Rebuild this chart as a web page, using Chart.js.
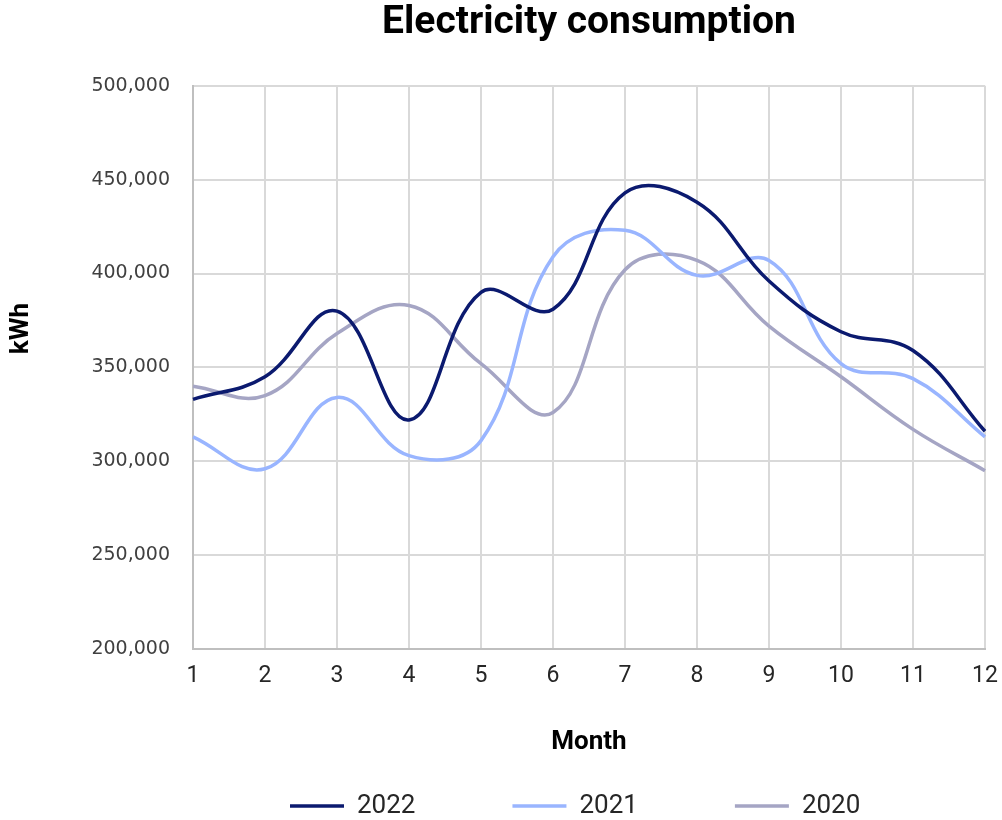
<!DOCTYPE html>
<html>
<head>
<meta charset="utf-8">
<title>Electricity consumption</title>
<script src="https://cdn.jsdelivr.net/npm/chart.js@4.4.1/dist/chart.umd.min.js"></script>
<style>
  html, body { margin: 0; padding: 0; background: #ffffff; }
  #chart_area { width: 1002px; height: 820px; }
</style>
</head>
<body>
<div id="chart_area"><canvas id="myChart"></canvas></div>
<script>
// months on the x axis
var months = [1, 2, 3, 4, 5, 6, 7, 8, 9, 10, 11, 12];

// kWh per month
var kwh2022 = [333000, 345000, 380000, 322000, 390000, 381000, 443000, 438000, 396000, 369000, 359000, 316000];
var kwh2021 = [313000, 296000, 334000, 303000, 311000, 409000, 423000, 399000, 407000, 352000, 344000, 313000];
var kwh2020 = [340000, 335000, 368000, 383000, 352000, 326000, 402000, 407000, 372000, 345000, 317000, 295000];

var yTicks = [200000, 250000, 300000, 350000, 400000, 450000, 500000];

var gridColor = "#d9d9d9";
var textColor = "#404040";

function line(label, data, color)
{
    return {
        label: label,
        data: data,
        borderColor: color,
        backgroundColor: color,
        borderWidth: 3.5,
        pointRadius: 0,
        pointHoverRadius: 0,
        tension: 0.4,
        fill: false
    };
}

var ctx = document.getElementById("myChart").getContext("2d");

var myChart = new Chart(ctx, {
    type: "line",
    data: {
        labels: months,
        datasets: [
            line("2022", kwh2022, "#0b1a6f"),
            line("2021", kwh2021, "#99b5ff"),
            line("2020", kwh2020, "#a5a5c4")
        ]
    },
    options: {
        responsive: true,
        maintainAspectRatio: false,
        animation: false,
        layout: { padding: { left: 0, right: 17, top: 0, bottom: -9 } },
        plugins: {
            title: {
                display: true,
                text: "Electricity consumption",
                color: "#000000",
                fullSize: false,
                font: { family: "Roboto", size: 39, weight: "bold" },
                padding: { top: 0, bottom: 39 }
            },
            legend: {
                position: "bottom",
                align: "start",
                fullSize: false,
                labels: {
                    usePointStyle: true,
                    pointStyle: "line",
                    pointStyleWidth: 54,
                    color: "#262626",
                    font: { family: "Roboto", size: 26 },
                    padding: 97
                }
            },
            tooltip: { enabled: false }
        },
        scales: {
            x: {
                type: "category",
                offset: false,
                grid: { color: gridColor, lineWidth: 2, drawTicks: false },
                border: { color: "#bfbfbf", width: 2 },
                ticks: {
                    color: "#262626",
                    font: { family: "Roboto", size: 23 },
                    padding: 13,
                    maxRotation: 0,
                    autoSkip: false
                },
                title: {
                    display: true,
                    text: "Month",
                    color: "#000000",
                    font: { family: "Roboto", size: 26, weight: "bold" },
                    padding: { top: 0, bottom: -62 }
                },
                afterFit: function (scale) {
                    scale.height = 47;
                    scale.paddingRight = 0;   // last label fits in the layout padding
                }
            },
            y: {
                min: 200000,
                max: 500000,
                grid: { color: gridColor, lineWidth: 2, drawTicks: false },
                border: { color: "#bfbfbf", width: 2 },
                afterBuildTicks: function (scale) {
                    scale.ticks = yTicks.map(function (v) { return { value: v }; });
                },
                ticks: {
                    color: textColor,
                    font: { family: "DejaVu Sans", size: 19 },
                    padding: 23,
                    callback: function (v) { return v.toLocaleString("en-US"); }
                },
                title: {
                    display: true,
                    // leading spaces lift the label a bit, like the original
                    text: "            kWh",
                    color: "#000000",
                    font: { family: "Roboto", size: 26, weight: "bold" },
                    padding: { top: 6, bottom: 0 }
                },
                afterFit: function (scale) { scale.width = 193; }
            }
        }
    }
});
</script>
</body>
</html>
